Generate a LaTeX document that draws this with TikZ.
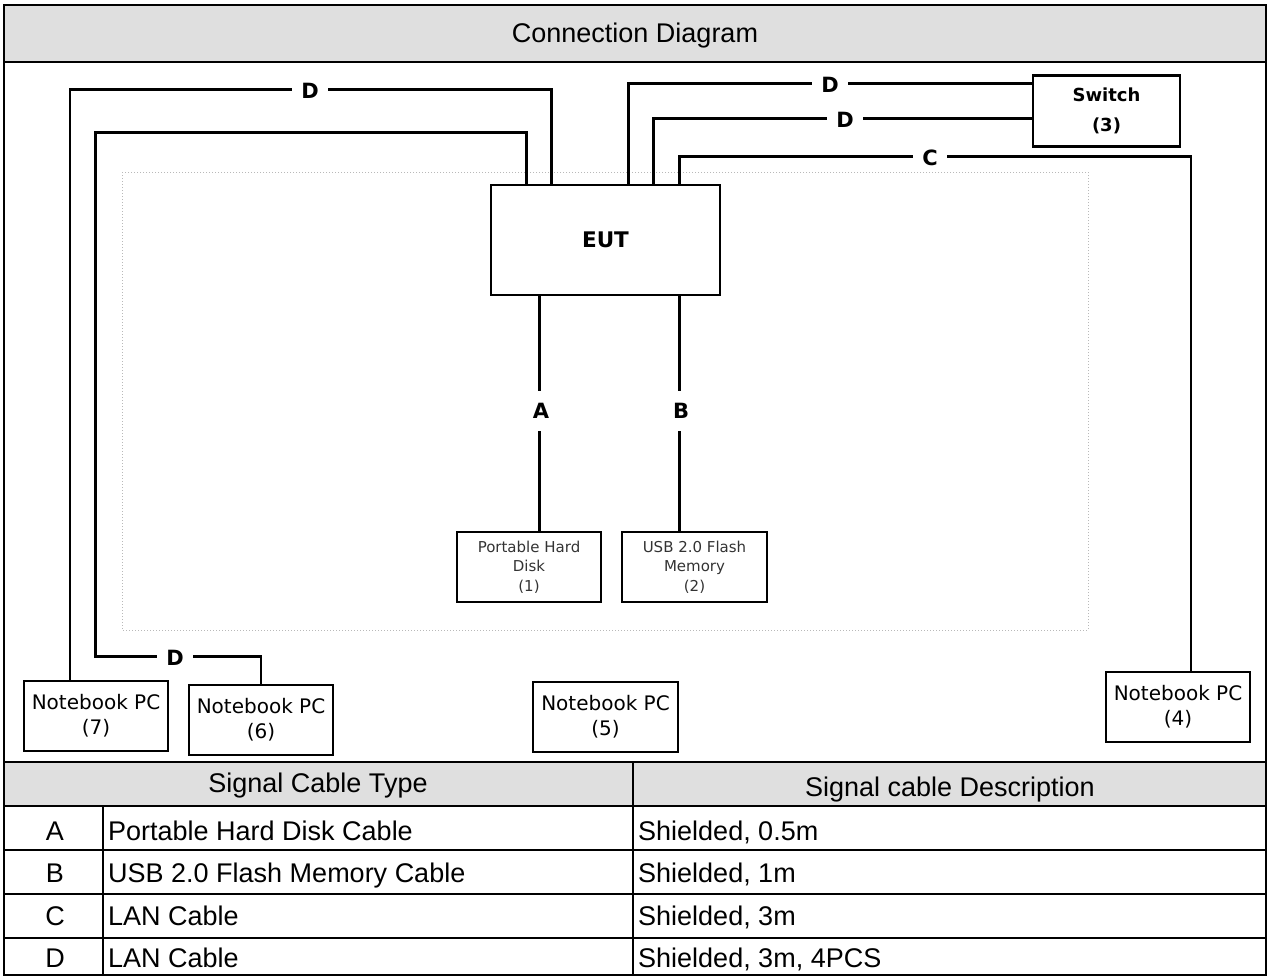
\documentclass[tikz,border=0pt]{standalone}
\usepackage{fontspec}
\setmainfont{Liberation Sans}
\newfontfamily\boxfont{DejaVu Sans}
\tikzset{
	x=1pt, y=-1pt,
	pcbox/.style = {draw, line width=2.6pt, minimum width=144pt, minimum height=70pt, inner sep=0pt, align=center, font=\boxfont\fontsize{20}{25}\selectfont},
	devbox/.style = {pcbox, font=\boxfont\fontsize{15}{19.5}\selectfont, text=black!80},
	eutbox/.style = {pcbox, minimum width=229pt, minimum height=110pt, font=\boxfont\bfseries\fontsize{21.5}{22}\selectfont},
	cable/.style = {line width=2.6pt},
	cablelbl/.style = {fill=white, inner xsep=9pt, inner ysep=1pt, font=\boxfont\bfseries\fontsize{21}{21}\selectfont},
	cell/.style = {inner sep=0pt, font=\fontsize{27}{27}\selectfont},
	rule/.style = {line width=2.6pt}
}
\begin{document}
\begin{tikzpicture}
	\useasboundingbox (0,0) rectangle (1269,977);
	\fill[gray!25] (4,5) rectangle (1266,62);
	\fill[gray!25] (4,762) rectangle (1266,806);
	\draw[gray!55, dotted, line width=1pt] (122,172) rectangle (1088,630);
	\node[eutbox] (eut) at (605.5,240) {EUT};
	\node[devbox] (hd) at (529,567) {Portable Hard\\Disk\\(1)};
	\node[devbox, minimum width=145pt] (usb) at (694.5,567) {USB 2.0 Flash\\Memory\\(2)};
	\node[pcbox, minimum width=147pt, minimum height=71pt, font=\boxfont\bfseries\fontsize{18}{30}\selectfont] (sw) at (1106.5,111) {Switch\\(3)};
	\node[pcbox] (p4) at (1178,707) {Notebook PC\\(4)};
	\node[pcbox, minimum width=145pt] (p5) at (605.5,717) {Notebook PC\\(5)};
	\node[pcbox] (p6) at (261,720) {Notebook PC\\(6)};
	\node[pcbox] (p7) at (96,716) {Notebook PC\\(7)};
	\coordinate (t1) at ([xshift=37pt]eut.north west);
	\coordinate (t2) at ([xshift=62pt]eut.north west);
	\coordinate (t3) at ([xshift=139pt]eut.north west);
	\coordinate (t4) at ([xshift=164pt]eut.north west);
	\coordinate (t5) at ([xshift=190pt]eut.north west);
	\coordinate (b1) at ([xshift=50pt]eut.south west);
	\coordinate (b2) at ([xshift=190pt]eut.south west);
	\draw[cable] (t2) -- ++(0,-94) -| ([xshift=-26pt]p7.north);
	\draw[cable] (t1) -- ++(0,-51) -- ++(-431,0) |- ([yshift=27pt]p6.north) -- (p6.north);
	\draw[cable] (t3) |- ([yshift=-9pt]sw.north west);
	\draw[cable] (t4) |- ([yshift=-44pt]sw.north west);
	\draw[cable] (t5) -- ++(0,-27) -| ([xshift=13pt]p4.north);
	\draw[cable] (b1) -- (b1 |- hd.north);
	\draw[cable] (b2) -- (b2 |- usb.north);
	\node[cablelbl] at (310,91) {D};
	\node[cablelbl] at (175,658) {D};
	\node[cablelbl] at (830,85) {D};
	\node[cablelbl] at (845,120) {D};
	\node[cablelbl] at (930,158) {C};
	\node[cablelbl, inner xsep=2pt, inner ysep=12pt] at (541,411) {A};
	\node[cablelbl, inner xsep=2pt, inner ysep=12pt] at (681,411) {B};
	\draw[rule] (4,5) rectangle (1266,975);
	\draw[rule] (4,62) -- (1266,62);
	\draw[rule] (4,762) -- (1266,762);
	\foreach \y in {806,850,894,938}
		\draw[rule] (4,\y) -- (1266,\y);
	\draw[rule] (633,762) -- (633,975);
	\draw[rule] (103,806) -- (103,975);
	\node[cell, anchor=base] (title) at (635,42) {Connection Diagram};
	\node[cell, anchor=base] (hdtype) at (318,792) {Signal Cable Type};
	\node[cell, anchor=base] (hddesc) at (950,796) {Signal cable Description};
	\foreach \k/\t/\d [count=\i from 0] in {A/Portable Hard Disk Cable/{Shielded, 0.5m}, B/USB 2.0 Flash Memory Cable/{Shielded, 1m}, C/LAN Cable/{Shielded, 3m}, D/LAN Cable/{Shielded, 3m, 4PCS}} {
		\node[cell, anchor=base] (key\i) at (55,840+42.6*\i) {\k};
		\node[cell, anchor=base west] (type\i) at (108,840+42.6*\i) {\t};
		\node[cell, anchor=base west] (desc\i) at (638,840+42.6*\i) {\d};
	}
\end{tikzpicture}
\end{document}
